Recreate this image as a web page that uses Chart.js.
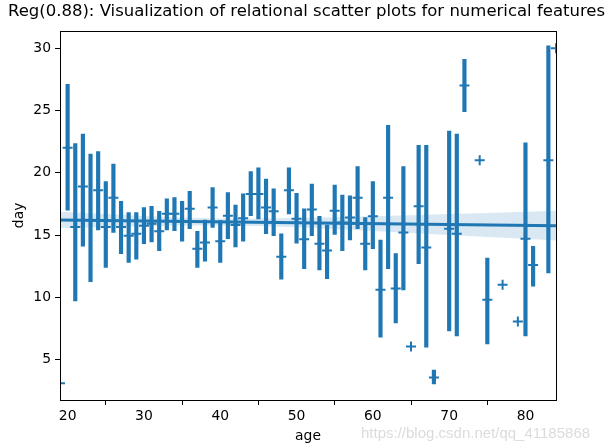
<!DOCTYPE html>
<html>
<head>
<meta charset="utf-8">
<script src="https://cdn.jsdelivr.net/npm/chart.js@4.4.1/dist/chart.umd.min.js"></script>
<style>
  html, body { margin: 0; padding: 0; background: #fff; }
  canvas { display: block; }
</style>
</head>
<body>
<canvas id="c" width="613" height="448"></canvas>
<script>
// ---- Data ----
const ages   = [19,20,21,22,23,24,25,26,27,28,29,30,31,32,33,34,35,36,37,38,39,40,41,42,43,44,45,46,47,48,49,50,51,52,53,54,55,56,57,58,59,60,61,62,63,64,65,66,67,68,70,71,72,74,75,77,79,80,81,83,84];
const dayMean= [3.1,22.0,15.65,18.9,16.2,18.6,15.65,18.0,15.65,14.95,15.1,15.75,15.9,15.3,16.7,16.7,16.1,17.1,13.9,14.4,17.2,14.5,16.55,15.8,16.35,18.3,18.3,17.2,16.9,13.25,18.6,16.3,14.65,17.05,14.3,13.75,16.95,16.0,16.4,18.0,14.3,16.5,10.6,18.0,10.7,15.2,6.05,17.3,14.0,3.55,15.5,15.1,27.0,21.0,9.8,11.0,8.05,14.7,12.6,21.0,30.0];
const ciLow  = [null,17.0,9.7,14.1,11.25,15.4,12.4,15.2,13.5,12.8,13.05,14.3,14.45,13.75,15.4,15.35,14.5,15.5,12.4,12.9,15.6,12.8,14.7,14.05,14.5,16.55,16.3,15.1,14.95,11.45,16.7,14.35,12.3,14.95,12.2,11.5,15.05,13.75,14.6,15.5,12.2,13.9,6.8,12.3,7.95,10.6,null,12.7,6.0,3.05,7.3,6.9,24.9,null,6.25,null,null,6.9,10.9,11.95,null];
const ciHigh = [null,27.1,22.35,23.1,21.5,21.7,19.3,20.7,17.7,16.8,16.8,17.2,17.3,16.9,17.9,18.0,17.7,18.5,15.3,16.2,18.8,16.15,18.4,17.4,18.3,20.1,20.4,19.5,18.7,15.1,20.4,18.35,17.1,19.1,16.5,15.8,19.0,18.2,18.15,20.5,16.4,19.3,14.6,23.8,13.5,20.5,null,22.2,22.2,4.15,23.35,23.1,29.1,null,13.15,null,null,22.4,14.1,30.2,null];

// regression line end points and confidence band
const regX   = [19, 84];
const regY   = [16.2, 15.75];
const bandX  = [19,25,30,35,40,45,50,55,60,65,70,75,80,84];
const bandLo = [15.54,15.64,15.71,15.77,15.77,15.72,15.62,15.48,15.33,15.17,15.01,14.85,14.69,14.55];
const bandHi = [16.86,16.68,16.53,16.41,16.33,16.32,16.36,16.42,16.51,16.59,16.69,16.77,16.87,16.95];

const xTicks = [20,30,40,50,60,70,80];
const yTicks = [5,10,15,20,25,30];

const titleText = "Reg(0.88): Visualization of relational scatter plots for numerical features";
const xLabel = "age";
const yLabel = "day";
const watermark = "https://blog.csdn.net/qq_41185868";

// ---- Chart ----
const BLUE = '#1f77b4';

const framePlugin = {
  id: 'frame',
  afterDatasetsDraw(chart) {
    const a = chart.chartArea, ctx = chart.ctx;
    ctx.save();
    ctx.strokeStyle = '#000';
    ctx.lineWidth = 1;
    ctx.strokeRect(Math.round(a.left) + 0.5, Math.round(a.top) + 0.5, Math.round(a.right - a.left), Math.round(a.bottom - a.top));
    ctx.restore();
  },
  afterDraw(chart) {
    const ctx = chart.ctx;
    ctx.save();
    ctx.fillStyle = 'rgba(190,190,190,0.55)';
    ctx.font = '15px "Liberation Sans", Arial, sans-serif';
    ctx.textAlign = 'left';
    ctx.textBaseline = 'alphabetic';
    ctx.fillText(watermark, 361, 438);
    ctx.restore();
  }
};

const tickFont = { family: '"DejaVu Sans", sans-serif', size: 13.9 };

new Chart(document.getElementById('c'), {
  type: 'scatter',
  data: {
    datasets: [
      {
        type: 'line',
        data: regX.map((x, i) => ({ x, y: regY[i] })),
        borderColor: BLUE,
        borderWidth: 3,
        pointRadius: 0,
        fill: false,
        clip: 0
      },
      {
        type: 'scatter',
        data: ages.map((x, i) => ({ x, y: dayMean[i] })),
        pointStyle: 'cross',
        pointRadius: 5,
        pointBorderWidth: 2,
        borderColor: BLUE,
        backgroundColor: BLUE,
        clip: 0
      },
      {
        type: 'bar',
        data: ages.map((x, i) => ({ x, y: ciLow[i] == null ? null : [ciLow[i], ciHigh[i]] })),
        backgroundColor: BLUE,
        borderWidth: 0,
        barThickness: 3.5,
        grouped: false,
        clip: 0
      },
      {
        type: 'line',
        data: bandX.map((x, i) => ({ x, y: bandHi[i] })),
        borderWidth: 0,
        borderColor: 'rgba(0,0,0,0)',
        pointRadius: 0,
        backgroundColor: 'rgba(31,119,180,0.17)',
        fill: '+1',
        clip: 0
      },
      {
        type: 'line',
        data: bandX.map((x, i) => ({ x, y: bandLo[i] })),
        borderWidth: 0,
        borderColor: 'rgba(0,0,0,0)',
        pointRadius: 0,
        fill: false,
        clip: 0
      }
    ]
  },
  options: {
    responsive: false,
    devicePixelRatio: 1,
    animation: false,
    layout: { padding: 0 },
    plugins: {
      legend: { display: false },
      tooltip: { enabled: false },
      title: {
        display: true,
        text: titleText,
        color: '#000',
        font: { family: '"DejaVu Sans", sans-serif', size: 16.5, weight: 'normal' },
        padding: { top: 2, bottom: 9 }
      }
    },
    scales: {
      x: {
        type: 'linear',
        min: 19,
        max: 84,
        offset: false,
        afterBuildTicks: s => { s.ticks = xTicks.map(v => ({ value: v })); },
        afterFit: s => { s.height = 48; },
        ticks: { color: '#000', font: tickFont, padding: 3, maxRotation: 0, autoSkip: false },
        grid: { display: true, drawOnChartArea: false, drawTicks: true, tickLength: 5, color: '#000', tickColor: '#000' },
        border: { display: false },
        title: { display: true, text: xLabel, color: '#000', font: tickFont, padding: { top: 0, bottom: 3.5 } }
      },
      y: {
        type: 'linear',
        min: 1.75,
        max: 31.4,
        afterBuildTicks: s => { s.ticks = yTicks.map(v => ({ value: v })); },
        afterFit: s => { s.width = 60; },
        ticks: { color: '#000', font: tickFont, padding: 4 },
        grid: { display: true, drawOnChartArea: false, drawTicks: true, tickLength: 5, color: '#000', tickColor: '#000' },
        border: { display: false },
        title: { display: true, text: yLabel, color: '#000', font: tickFont, padding: { top: 11.5, bottom: 0 } }
      },
      yRight: {
        type: 'linear',
        position: 'right',
        display: true,
        min: 0,
        max: 1,
        ticks: { display: false },
        grid: { display: false, drawTicks: false },
        border: { display: false },
        afterFit: s => { s.width = 57; }
      }
    }
  },
  plugins: [framePlugin]
});
</script>
</body>
</html>
